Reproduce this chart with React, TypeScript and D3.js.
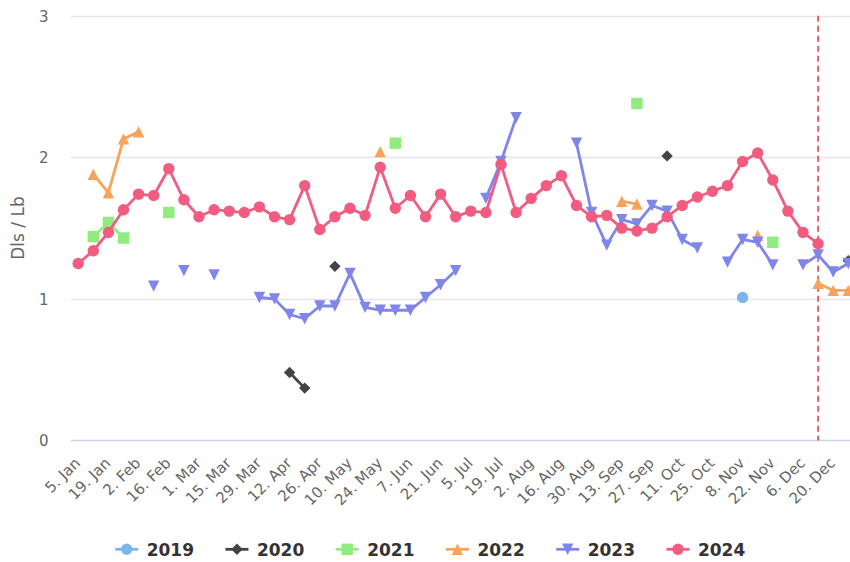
import React from 'react';
import * as d3 from 'd3';

const _ = null;

const tickLabels = [
  '5. Jan', '19. Jan', '2. Feb', '16. Feb', '1. Mar', '15. Mar', '29. Mar', '12. Apr',
  '26. Apr', '10. May', '24. May', '7. Jun', '21. Jun', '5. Jul', '19. Jul', '2. Aug',
  '16. Aug', '30. Aug', '13. Sep', '27. Sep', '11. Oct', '25. Oct', '8. Nov', '22. Nov',
  '6. Dec', '20. Dec',
];

const yTicks = [0, 1, 2, 3];

const s2019 = [
  _, _, _, _, _, _, _, _, _, _, _, _, _,
  _, _, _, _, _, _, _, _, _, _, _, _, _,
  _, _, _, _, _, _, _, _, _, _, _, _, _,
  _, _, _, _, _, 1.01, _, _, _, _, _, _, _,
];
const s2020 = [
  _, _, _, _, _, _, _, _, _, _, _, _, _,
  _, 0.48, 0.37, _, 1.23, _, _, _, _, _, _, _, _,
  _, _, _, _, _, _, _, _, _, _, _, _, _,
  2.01, _, _, _, _, _, _, _, _, _, _, _, 1.27,
];
const s2021 = [
  _, 1.44, 1.54, 1.43, _, _, 1.61, _, _, _, _, _, _,
  _, _, _, _, _, _, _, _, 2.1, _, _, _, _,
  _, _, _, _, _, _, _, _, _, _, _, 2.38, _,
  _, _, _, _, _, _, _, 1.4, _, _, _, _, _,
];
const s2022 = [
  _, 1.88, 1.75, 2.13, 2.18, _, _, _, _, _, _, _, _,
  _, _, _, _, _, _, _, 2.04, _, _, _, _, _,
  _, _, _, _, _, _, _, _, _, _, 1.69, 1.67, _,
  _, _, _, _, _, _, 1.45, _, _, _, 1.11, 1.06, 1.06,
];
const s2023 = [
  _, _, _, _, _, 1.09, _, 1.2, _, 1.17, _, _, 1.01,
  1.0, 0.89, 0.86, 0.95, 0.95, 1.18, 0.94, 0.92, 0.92, 0.92, 1.01, 1.1, 1.2,
  _, 1.71, 1.97, 2.28, _, _, _, 2.1, 1.61, 1.38, 1.56, 1.53, 1.66,
  1.62, 1.42, 1.36, _, 1.26, 1.42, 1.4, 1.24, _, 1.24, 1.31, 1.19, 1.25,
];
const s2024 = [
  1.25, 1.34, 1.47, 1.63, 1.74, 1.73, 1.92, 1.7, 1.58, 1.63, 1.62, 1.61, 1.65,
  1.58, 1.56, 1.8, 1.49, 1.58, 1.64, 1.59, 1.93, 1.64, 1.73, 1.58, 1.74, 1.58,
  1.62, 1.61, 1.95, 1.61, 1.71, 1.8, 1.87, 1.66, 1.58, 1.59, 1.5, 1.48, 1.5,
  1.58, 1.66, 1.72, 1.76, 1.8, 1.97, 2.03, 1.84, 1.62, 1.47, 1.39, _, _,
];

const seriesNames = ['2019', '2020', '2021', '2022', '2023', '2024'];
const seriesColors = ['#7cb5ec', '#434348', '#90ed7d', '#f7a35c', '#8085e9', '#f15c80'];
const seriesSymbols = ['circle', 'diamond', 'square', 'triangle', 'triangle-down', 'circle'];
const seriesData = [s2019, s2020, s2021, s2022, s2023, s2024];

const currentWeek = 49;

const W = 850;
const H = 562;
const plotLeft = 71;
const plotRight = 850;
const FONT = '"DejaVu Sans", Verdana, sans-serif';

const x = d3.scaleLinear().domain([0, 51]).range([78.2, 848.3]);
const y = d3.scaleLinear().domain([0, 3]).range([440.5, 15.7]);

const R = 5.7;

function symbolPath(type: string, cx: number, cy: number, r: number): string {
  switch (type) {
    case 'circle':
      return `M${cx - r},${cy}a${r},${r} 0 1,0 ${2 * r},0a${r},${r} 0 1,0 ${-2 * r},0Z`;
    case 'square':
      return `M${cx - r},${cy - r}h${2 * r}v${2 * r}h${-2 * r}Z`;
    case 'diamond':
      return `M${cx},${cy - r}L${cx + r},${cy}L${cx},${cy + r}L${cx - r},${cy}Z`;
    case 'triangle':
      return `M${cx},${cy - r}L${cx + r},${cy + r}L${cx - r},${cy + r}Z`;
    case 'triangle-down':
      return `M${cx - r},${cy - r}L${cx + r},${cy - r}L${cx},${cy + r}Z`;
    default:
      return '';
  }
}

export default function App() {
  const line = d3
    .line<number | null>()
    .defined((d) => d != null)
    .x((_d, i) => x(i))
    .y((d) => y(d as number));

  const legendStart = 146.7;
  const legendStep = 110.25;

  return (
    <svg
      width={W}
      height={H}
      style={{ position: 'absolute', left: 0, top: 0, background: '#fff', fontFamily: FONT }}
    >
      <rect x={0} y={0} width={W} height={H} fill="#ffffff" />
      {/* grid lines */}
      {yTicks.filter((t) => t !== 0).map((t) => (
        <line key={t} x1={plotLeft} x2={plotRight} y1={Math.round(y(t)) + 0.5} y2={Math.round(y(t)) + 0.5}
          stroke="#e6e6e6" strokeWidth={1.4} />
      ))}
      {/* x axis line */}
      <line x1={plotLeft} x2={plotRight} y1={y(0)} y2={y(0)} stroke="#ccd6eb" strokeWidth={1.4} />
      {/* y labels */}
      {yTicks.map((t) => (
        <text key={t} x={48.5} y={y(t) + 5.8} textAnchor="end" fontSize={15} fill="#666666">{t}</text>
      ))}
      {/* y title */}
      <text transform={`translate(24,228) rotate(-90)`} textAnchor="middle" fontSize={17} fill="#666666">Dls / Lb</text>
      {/* x labels */}
      {tickLabels.map((lab, i) => (
        <text key={lab} transform={`translate(${x(i * 2) + 3},${464}) rotate(-45)`} textAnchor="end"
          fontSize={15} fill="#666666">{lab}</text>
      ))}
      {/* current week plot line */}
      <line x1={x(currentWeek)} x2={x(currentWeek)} y1={y(3)} y2={y(0)} stroke="#de3b3f" strokeWidth={1.5}
        strokeDasharray="6,4" />
      {/* series */}
      {seriesData.map((data, si) => (
        <g key={seriesNames[si]}>
          <path d={line(data) || ''} fill="none" stroke={seriesColors[si]} strokeWidth={2.8}
            strokeLinejoin="round" strokeLinecap="round" />
          {data.map((v, i) =>
            v == null ? null : (
              <path key={i} d={symbolPath(seriesSymbols[si], x(i), y(v), R)} fill={seriesColors[si]} />
            )
          )}
        </g>
      ))}
      {/* legend */}
      {seriesNames.map((name, i) => {
        const tx = legendStart + i * legendStep;
        const ly = 549.3;
        return (
          <g key={name}>
            <line x1={tx - 31.5} x2={tx - 8.5} y1={ly} y2={ly} stroke={seriesColors[i]} strokeWidth={2.8} />
            <path d={symbolPath(seriesSymbols[i], tx - 20, ly, R)} fill={seriesColors[i]} />
            <text x={tx} y={556} fontSize={17} fontWeight="bold" fill="#333333">{name}</text>
          </g>
        );
      })}
    </svg>
  );
}
